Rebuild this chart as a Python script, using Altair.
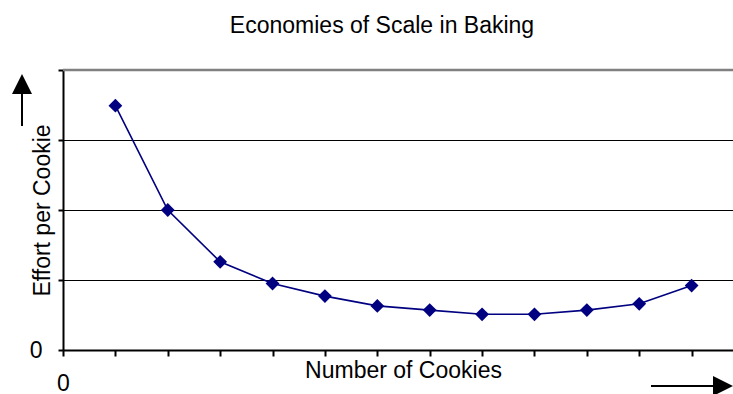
import altair as alt
import pandas as pd

# ---- data ----
batch = list(range(1, 13))
effort = [3.49, 2.0, 1.26, 0.95, 0.77, 0.63, 0.57, 0.51, 0.51, 0.57, 0.66, 0.92]
y_ticks = [0, 1, 2, 3, 4]
x_ticks = list(range(0, 13))
top_border = [4]

W, H = 670, 280
FONT = "Liberation Sans"
NAVY = "#000080"
FS = 23

df = pd.DataFrame({"batch": batch, "effort": effort})

x_enc = alt.X(
    "batch:Q",
    scale=alt.Scale(domain=[0, 12.79], nice=False, zero=False),
    axis=alt.Axis(
        values=x_ticks, grid=False,
        domainColor="black", domainWidth=2,
        tickColor="black", tickWidth=2, tickSize=6,
        labelExpr="datum.value == 0 ? '0' : ''",
        labelPadding=34, labelFontSize=FS, labelFont=FONT, labelColor="black",
        labelFlush=False, labelBaseline="alphabetic",
        title="Number of Cookies", titleFont=FONT, titleFontSize=FS,
        titleFontWeight="normal", titleColor="black",
        titleX=340, titleY=27, titleAlign="center", titleBaseline="alphabetic",
    ),
)

y_enc = alt.Y(
    "effort:Q",
    scale=alt.Scale(domain=[0, 4], nice=False),
    axis=alt.Axis(
        values=y_ticks, grid=True, gridColor="black", gridWidth=1,
        domainColor="black", domainWidth=2,
        tickColor="black", tickWidth=2, tickSize=5,
        labelExpr="datum.value == 0 ? '0' : ''",
        labelPadding=16, labelFontSize=FS, labelFont=FONT, labelColor="black",
        labelBaseline="middle", labelFlush=False,
        title="Effort per Cookie", titleFont=FONT, titleFontSize=FS,
        titleFontWeight="normal", titleColor="black",
        titleX=-14, titleY=140, titleAngle=-90,
        titleAlign="center", titleBaseline="alphabetic",
    ),
)

base = alt.Chart(df)
line = base.mark_line(color=NAVY, strokeWidth=1.6).encode(x=x_enc, y=y_enc)
pts = base.mark_point(shape="diamond", filled=True, size=190, color=NAVY, opacity=1).encode(
    x="batch:Q", y="effort:Q"
)

border = alt.Chart(pd.DataFrame({"effort": top_border})).mark_rule(
    color="#808080", strokeWidth=2.5
).encode(y="effort:Q")

one = pd.DataFrame({"a": [0]})
up_line = alt.Chart(one).mark_rule(color="black", strokeWidth=2).encode(
    x=alt.value(-41), y=alt.value(22), y2=alt.value(56)
)
up_head = alt.Chart(one).mark_point(
    shape="M0,-1L1,1L-1,1Z", filled=True, size=400, color="black", opacity=1
).encode(x=alt.value(-41), y=alt.value(14))

right_line = alt.Chart(one).mark_rule(color="black", strokeWidth=2).encode(
    x=alt.value(588), x2=alt.value(652), y=alt.value(316)
)
right_head = alt.Chart(one).mark_point(
    shape="M1,0L-1,1L-1,-1Z", filled=True, size=400, color="black", opacity=1
).encode(x=alt.value(660), y=alt.value(316))

chart = (
    alt.layer(line, pts, border, up_line, up_head, right_line, right_head)
    .properties(
        width=W, height=H,
        autosize="none",
        padding={"left": 63, "top": 70, "right": 0, "bottom": 44},
        title=alt.TitleParams(
            "Economies of Scale in Baking", font=FONT, fontSize=FS,
            fontWeight="normal", color="black", anchor="middle", frame="group",
            dx=-16, offset=13, baseline="alphabetic",
        ),
    )
    .configure_view(stroke=None)
    .configure(background="white")
)

chart.save("out.html", embed_options={"renderer": "svg", "actions": False})
